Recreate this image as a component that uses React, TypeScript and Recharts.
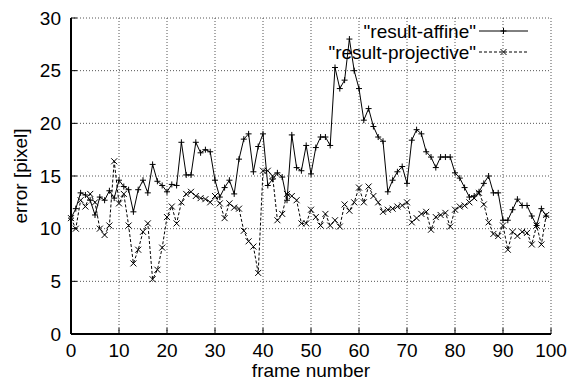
import { LineChart, Line, XAxis, YAxis, CartesianGrid } from "recharts";

const affine = [
  11.0, 11.9, 13.4, 13.2, 12.7, 11.3, 13.0, 12.7, 13.6, 12.9,
  14.6, 14.0, 13.7, 11.6, 13.7, 14.6, 13.4, 16.1, 14.5, 14.1,
  13.5, 14.2, 14.1, 18.2, 15.1, 15.1, 18.2, 17.2, 17.5, 17.3,
  14.6, 13.0, 13.9, 14.6, 13.3, 16.6, 18.5, 19.0, 15.4, 17.8,
  19.0, 14.1, 14.7, 15.3, 14.9, 12.7, 18.9, 15.8, 15.5, 17.9,
  15.2, 17.7, 18.7, 18.7, 17.9, 25.3, 23.3, 24.1, 28.0, 25.0,
  23.3, 20.3, 21.4, 19.7, 18.7, 18.3, 13.5, 14.6, 15.4, 15.9,
  14.3, 18.4, 19.4, 19.0, 17.3, 16.8, 15.8, 16.8, 16.8, 16.8,
  15.3, 14.8, 13.9, 13.0, 13.1, 13.5, 14.3, 15.0, 13.4, 13.4,
  10.8, 10.8, 11.8, 12.8, 12.2, 12.2, 11.2, 10.3, 11.9, 11.2,
];

const projective = [
  11.0, 10.0, 12.7, 12.1, 13.3, 12.5, 10.0, 9.4, 10.3, 16.4,
  12.4, 13.3, 10.3, 6.7, 8.0, 9.7, 10.5, 5.2, 6.1, 8.2,
  11.1, 12.1, 10.5, 12.5, 13.3, 13.5, 13.1, 12.9, 12.8, 12.5,
  13.1, 12.4, 11.0, 12.4, 12.0, 11.9, 9.8, 8.8, 8.3, 5.8,
  15.5, 15.5, 15.0, 10.8, 11.4, 13.3, 13.1, 12.7, 10.5, 10.5,
  11.8, 11.1, 10.3, 11.4, 10.3, 10.8, 10.2, 12.3, 11.7, 12.5,
  13.9, 12.5, 14.0, 13.1, 12.5, 11.6, 11.8, 11.9, 12.1, 12.2,
  12.5, 10.6, 11.0, 11.4, 11.6, 9.9, 11.1, 11.3, 11.5, 10.2,
  11.8, 12.1, 12.2, 12.5, 12.9, 13.4, 12.3, 10.6, 9.5, 9.3,
  10.3, 8.0, 9.7, 9.3, 9.7, 9.6, 8.5, 10.3, 8.5, 11.3,
];

const xTicks = [0, 10, 20, 30, 40, 50, 60, 70, 80, 90, 100];
const yTicks = [0, 5, 10, 15, 20, 25, 30];
const seriesNames = ['"result-affine"', '"result-projective"'];

const data = affine.map((v, i) => ({ frame: i, affine: v, projective: projective[i] }));

const FONT = "'Liberation Sans', Arial, Helvetica, sans-serif";
const FS = 19;
const TICK = 6;
const XTM = 10; // gap between bottom axis and its labels
const KEY_Y = [31, 52];

const PlusDot = (p: any) => {
  const { cx, cy } = p;
  if (cx == null || cy == null) return null;
  return <path d={`M${cx - 3},${cy}h6M${cx},${cy - 3}v6`} stroke="#000" strokeWidth={1} fill="none" />;
};

const CrossDot = (p: any) => {
  const { cx, cy } = p;
  if (cx == null || cy == null) return null;
  return <path d={`M${cx - 3},${cy - 3}l6,6M${cx - 3},${cy + 3}l6,-6`} stroke="#000" strokeWidth={1} fill="none" />;
};

// gnuplot style: ticks point inward
const BottomTick = ({ x, y, payload }: any) => (
  <g>
    <line x1={x} x2={x} y1={y - XTM} y2={y - XTM - TICK} stroke="#000" />
    <text x={x} y={y} dy="0.71em" textAnchor="middle" fontFamily={FONT} fontSize={FS} fill="#000">
      {payload.value}
    </text>
  </g>
);

const TopTick = ({ x, y }: any) => <line x1={x} x2={x} y1={y} y2={y + TICK} stroke="#000" />;

const LeftTick = ({ x, y, payload }: any) => (
  <g>
    <line x1={x + 10} x2={x + 10 + TICK} y1={y} y2={y} stroke="#000" />
    <text x={x} y={y} dy="0.355em" textAnchor="end" fontFamily={FONT} fontSize={FS} fill="#000">
      {payload.value}
    </text>
  </g>
);

const RightTick = ({ x, y }: any) => <line x1={x} x2={x - TICK} y1={y} y2={y} stroke="#000" />;

export default function App() {
  return (
    <div style={{ position: "absolute", left: 0, top: 0, width: 569, height: 381, background: "#fff" }}>
      <LineChart
        width={569}
        height={381}
        data={data}
        margin={{ top: 18, right: 18, bottom: 0, left: 0 }}
        style={{ fontFamily: FONT }}
      >
        <CartesianGrid stroke="#555" strokeDasharray="1 2" />
        <XAxis
          dataKey="frame"
          type="number"
          domain={[0, 100]}
          ticks={xTicks}
          height={47}
          tickSize={0}
          tickMargin={XTM}
          tick={BottomTick}
          axisLine={{ stroke: "#000", strokeWidth: 2 }}
          label={{ value: "frame number", position: "insideBottom", offset: 4, fontSize: FS, fill: "#000" }}
        />
        <XAxis
          xAxisId="top"
          orientation="top"
          dataKey="frame"
          type="number"
          domain={[0, 100]}
          ticks={xTicks}
          height={0}
          tickSize={0}
          tickMargin={0}
          tick={TopTick}
          axisLine={{ stroke: "#000", strokeWidth: 2 }}
        />
        <YAxis
          type="number"
          domain={[0, 30]}
          ticks={yTicks}
          width={71}
          tickSize={0}
          tickMargin={10}
          tick={LeftTick}
          axisLine={{ stroke: "#000", strokeWidth: 2 }}
          label={{
            value: "error [pixel]",
            angle: -90,
            position: "insideLeft",
            offset: 20,
            fontSize: FS,
            fill: "#000",
            style: { textAnchor: "middle" },
          }}
        />
        <YAxis
          yAxisId="right"
          orientation="right"
          type="number"
          domain={[0, 30]}
          ticks={yTicks}
          width={0}
          tickSize={0}
          tickMargin={0}
          tick={RightTick}
          axisLine={{ stroke: "#000", strokeWidth: 2 }}
        />
        <Line
          dataKey="affine"
          stroke="#000"
          strokeWidth={1}
          dot={PlusDot}
          activeDot={false}
          isAnimationActive={false}
        />
        <Line
          dataKey="projective"
          stroke="#000"
          strokeWidth={1}
          strokeDasharray="3 2"
          dot={CrossDot}
          activeDot={false}
          isAnimationActive={false}
        />
      </LineChart>
      <svg width={569} height={381} style={{ position: "absolute", left: 0, top: 0, pointerEvents: "none" }}>
        <text x={476} y={KEY_Y[0]} dy="0.355em" textAnchor="end" fontFamily={FONT} fontSize={FS} fill="#000">
          {seriesNames[0]}
        </text>
        <line x1={479} x2={528} y1={KEY_Y[0]} y2={KEY_Y[0]} stroke="#000" />
        <PlusDot cx={503.5} cy={KEY_Y[0]} />
        <text x={476} y={KEY_Y[1]} dy="0.355em" textAnchor="end" fontFamily={FONT} fontSize={FS} fill="#000">
          {seriesNames[1]}
        </text>
        <line x1={479} x2={528} y1={KEY_Y[1]} y2={KEY_Y[1]} stroke="#000" strokeDasharray="3 2" />
        <CrossDot cx={503.5} cy={KEY_Y[1]} />
      </svg>
    </div>
  );
}
